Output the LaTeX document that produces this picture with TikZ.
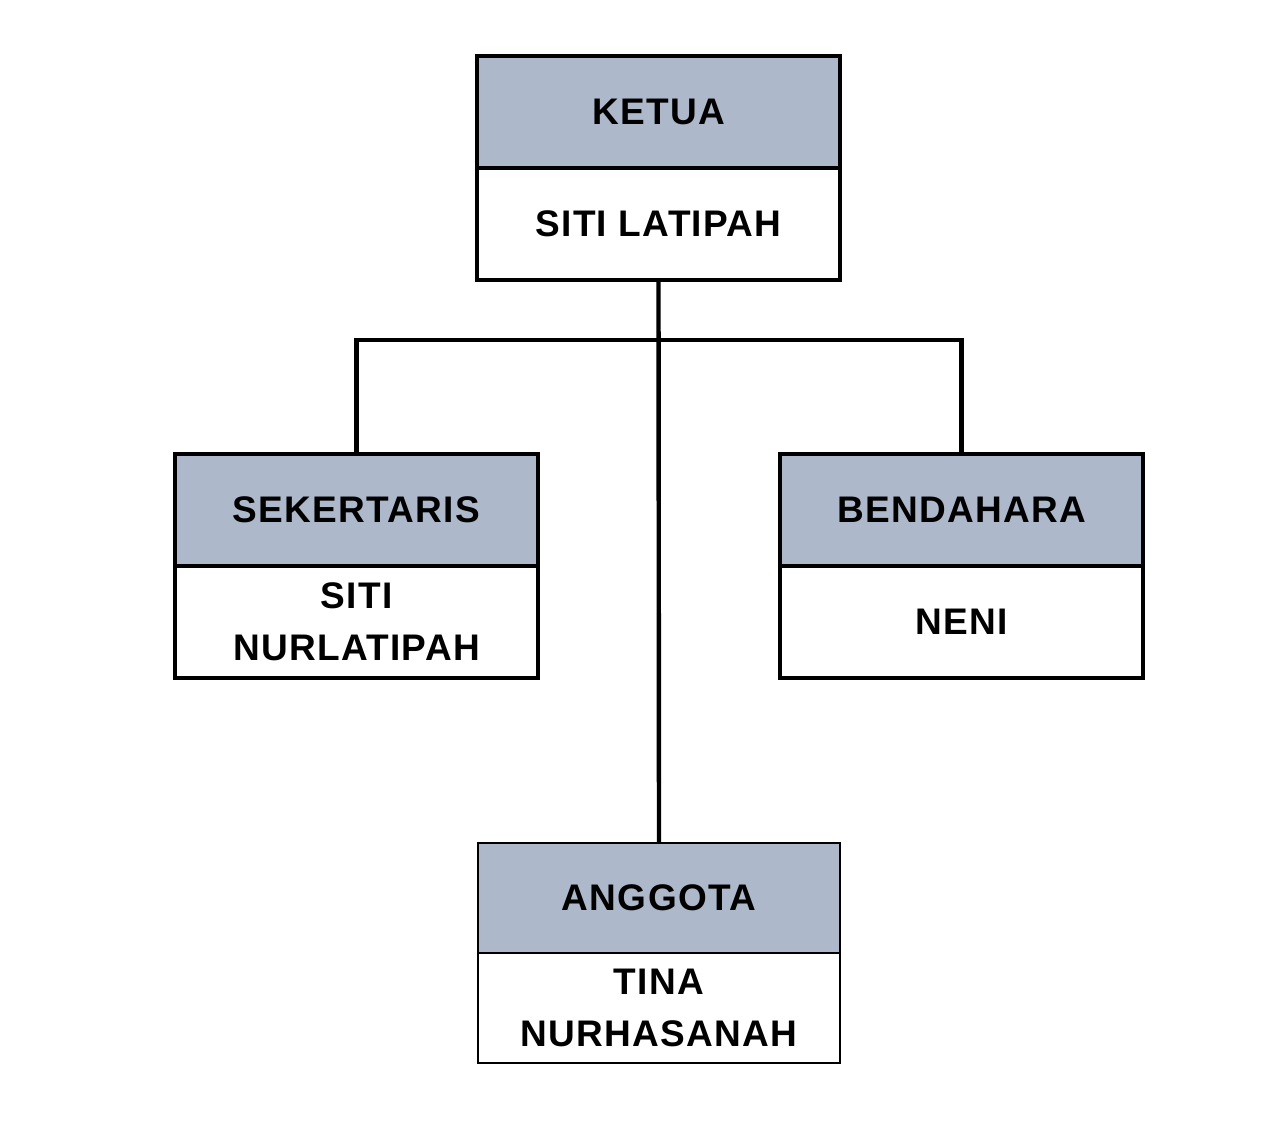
\documentclass[tikz,border=0pt]{standalone}
\usepackage{fontspec}
\setmainfont{Liberation Sans}
\usetikzlibrary{positioning}
\definecolor{headblue}{HTML}{ADB9CA}

\begin{document}
\begin{tikzpicture}[x=0.5pt,y=-0.5pt,
  head/.style={draw=black,line width=2pt,fill=headblue,minimum width=181.5pt,minimum height=56pt,
    inner sep=0pt,outer sep=0pt,align=center,
    font=\fontsize{18.5}{26}\selectfont\bfseries\addfontfeature{LetterSpace=3.5}},
  person/.style={head,fill=white},
  thinhead/.style={head,line width=1pt,minimum width=181pt,minimum height=55pt},
  thinperson/.style={thinhead,fill=white},
  link/.style={line width=2.2pt}]
 \useasboundingbox (0,0) rectangle (1271,1135);
 % ketua
 \node[head] (ketua) at (658.5,112) {KETUA};
 \node[person,below=0pt of ketua] (ketuaN) {SITI LATIPAH};
 % sekertaris
 \node[head] (sekretaris) at (356.5,509.5) {SEKERTARIS};
 \node[person,below=0pt of sekretaris] (sekretarisN) {SITI\\NURLATIPAH};
 % bendahara
 \node[head] (bendahara) at (961.5,509.5) {BENDAHARA};
 \node[person,below=0pt of bendahara] (bendaharaN) {NENI};
 % anggota
 \node[thinhead] (anggota) at (659,898) {ANGGOTA};
 \node[thinperson,below=0pt of anggota] (anggotaN) {TINA\\NURHASANAH};
 % garis
 \coordinate (cabang) at (ketuaN.south |- 0,340);
 \draw[link] (ketuaN.south) -- (anggota.north);
 \draw[link] (sekretaris.north) |- (cabang) -| (bendahara.north);
\end{tikzpicture}
\end{document}
